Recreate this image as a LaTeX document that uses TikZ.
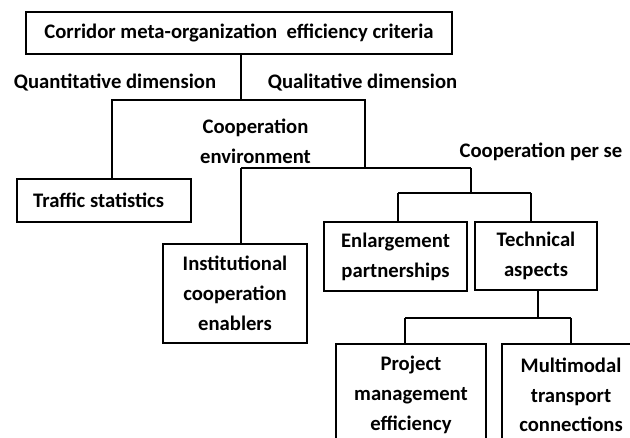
\documentclass[tikz,border=0pt]{standalone}
\usepackage{fontspec}
\setmainfont{Carlito}
\begin{document}
\begin{tikzpicture}[x=0.75pt,y=-0.75pt,
  every node/.style={font=\fontsize{15.5}{22.3}\selectfont\bfseries, inner sep=0pt, align=center},
  box/.style={draw=black, line width=0.8pt, rectangle},
  conn/.style={draw=black, line width=0.8pt},
  lbl/.style={}]
\useasboundingbox (0,0) rectangle (630,437);
\clip (0,0) rectangle (630,437);
\fill[white] (0,0) rectangle (630,437);
% boxes
\node[box, minimum width=319.5pt, minimum height=31.5pt] (top) at (239,33) {Corridor meta-organization\ \ efficiency criteria};
\node[box, minimum width=130.5pt, minimum height=32.25pt] (traffic) at (104,200.5) {\hspace*{-8pt}Traffic statistics};
\node[box, minimum width=108pt, minimum height=74.25pt] (inst) at (235,293.5) {Institutional\\cooperation\\enablers};
\node[box, minimum width=107.25pt, minimum height=51.75pt] (enl) at (395.5,256.5) {Enlargement\\partnerships};
\node[box, minimum width=91.5pt, minimum height=51pt] (tech) at (536,256) {Technical\\aspects};
\node[box, minimum width=112.5pt, minimum height=79.5pt] (proj) at (411,397) {};
\node[box, minimum width=103.5pt, minimum height=79.5pt] (multi) at (571,397) {};
\node (projt) at (411,395) {Project\\management\\efficiency};
\node (multit) at (571,395) {Multimodal\\transport\\connections};
% labels
\node[lbl] (quant) at (115,83) {Quantitative dimension};
\node[lbl] (qual) at (362.5,83) {Qualitative dimension};
\node[lbl] (coop) at (255.5,141) {Cooperation\\environment};
\node[lbl] (perse) at (541,152) {Cooperation per se};
% bus coordinates
\coordinate (b1l) at (112,100); \coordinate (b1m) at (241,100); \coordinate (b1r) at (365,100);
\coordinate (b2l) at (241,168); \coordinate (b2r) at (471,168);
\coordinate (b3l) at (398,193); \coordinate (b3r) at (531,193);
\coordinate (b4l) at (405,318); \coordinate (b4m) at (538,318); \coordinate (b4r) at (571,318);
% connectors
\draw[conn] (top.south -| b1m) -- (b1m);
\draw[conn] (traffic.north -| b1l) -- (b1l) -- (b1r) -- (b1r |- b2l);
\draw[conn] (b2l) -- (b2r);
\draw[conn] (b2l) -- (inst.north -| b2l);
\draw[conn] (b2r) -- (b2r |- b3l);
\draw[conn] (b3l) -- (b3r);
\draw[conn] (b3l) -- (enl.north -| b3l);
\draw[conn] (b3r) -- (tech.north -| b3r);
\draw[conn] (tech.south -| b4m) -- (b4m);
\draw[conn] (b4l) -- (b4r);
\draw[conn] (b4l) -- (proj.north -| b4l);
\draw[conn] (b4r) -- (multi.north -| b4r);
\end{tikzpicture}
\end{document}
